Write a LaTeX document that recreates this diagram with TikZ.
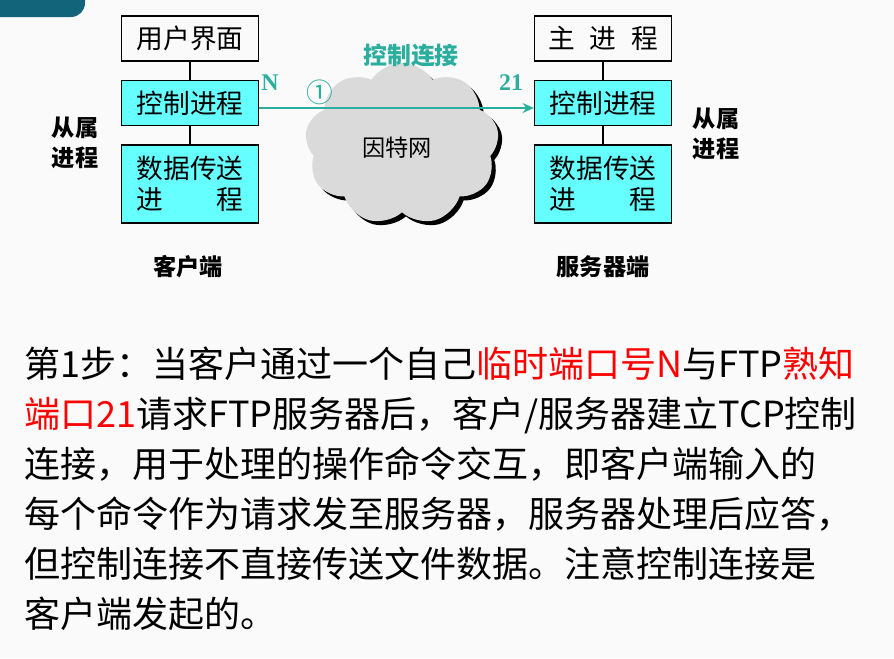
\documentclass[tikz,border=0pt]{standalone}
\usepackage{fontspec}
\setmainfont{Noto Sans CJK SC}
\newfontfamily\latinbf{Liberation Serif}
\usepackage{xcolor}
\usetikzlibrary{shapes.symbols,shadows,arrows.meta}
\definecolor{linkteal}{RGB}{43,174,158}
\definecolor{boxcyan}{RGB}{102,255,255}
\definecolor{cloudgray}{RGB}{218,218,218}
\definecolor{slideteal}{RGB}{18,100,122}
\definecolor{hotred}{RGB}{255,0,0}
\tikzset{%
    proc box/.style={
            draw,
            line width=0.8pt,
            minimum width=3.425cm,
            minimum height=1.125cm,
            inner sep=0pt,
            align=center,
            font=\fontsize{19pt}{22pt}\selectfont
        },
    proc ctrl/.style={fill=boxcyan},
    proc data/.style={fill=boxcyan, minimum height=1.95cm},
    side label/.style={
            align=center,
            inner sep=0pt,
            font=\fontsize{16.5pt}{21pt}\selectfont\bfseries
        },
    body line/.style={
            anchor=base west,
            inner sep=0pt,
            font=\fontsize{25.6pt}{30pt}\selectfont
        },
}

\begin{document}
\begin{tikzpicture}[x=0.025cm, y=-0.025cm, >={Stealth[length=8pt,width=7pt]}]

        % slide background
        \useasboundingbox (0,0) rectangle (894,658);
        \fill[gray!4] (0,0) rectangle (894,658);
        \fill[slideteal, rounded corners=0.35cm] (-20,-20) rectangle (85,17);

        % the internet
        \node [cloud, cloud puffs=9, cloud puff arc=115, aspect=1.2,
            minimum width=4.85cm, minimum height=4.05cm, inner sep=0pt,
            fill=cloudgray,
            drop shadow={shadow xshift=0.1cm, shadow yshift=-0.1cm, fill=black, opacity=1}]
            (net) at (402,144) {};
        \node [font=\fontsize{16.5pt}{20pt}\selectfont] (net-label) at (397,148) {因特网};

        % client and server columns
        \foreach \side/\x/\top in {c/190/用户界面, s/603/{主\hspace{0.55em}进\hspace{0.55em}程}} {
            \node [proc box] (\side-ui) at (\x,38.5) {\top};
            \node [proc box, proc ctrl] (\side-ctrl) at (\x,103) {控制进程};
            \node [proc box, proc data] (\side-data) at (\x,184) {数据传送\\进\hspace{2em}程};
            \draw [line width=0.8pt] (\side-ui) -- (\side-ctrl);
            \draw [line width=0.8pt] (\side-ctrl) -- (\side-data);
        }

        % control connection
        \draw [->, linkteal, line width=2pt]
            ([yshift=-0.125cm]c-ctrl.east) -- ([yshift=-0.125cm]s-ctrl.west);
        \node [linkteal, font=\fontsize{17pt}{20pt}\selectfont\bfseries] (link) at (411,55) {控制连接};
        \node [linkteal, font=\fontsize{17pt}{20pt}\selectfont\latinbf\bfseries] (port-n) at (270,83) {N};
        \node [linkteal, font=\fontsize{19pt}{20pt}\selectfont] (step-no) at (320,92) {①};
        \node [linkteal, font=\fontsize{17pt}{20pt}\selectfont\latinbf\bfseries] (port-21) at (511,83) {21};

        % side labels
        \node [side label] (c-sub) at (75,143) {从属\\进程};
        \node [side label] (s-sub) at (716,134) {从属\\进程};
        \node [side label] (c-name) at (188,267) {客户端};
        \node [side label] (s-name) at (603,267) {服务器端};

        % explanation
        \foreach \txt [count=\i] in {
            {第1步：当客户通过一个自己\textcolor{hotred}{临时端口号N}与FTP\textcolor{hotred}{熟知}},
            {\textcolor{hotred}{端口21}请求FTP服务器后，客户/服务器建立TCP控制},
            {连接，用于处理的操作命令交互，即客户端输入的},
            {每个命令作为请求发至服务器，服务器处理后应答，},
            {但控制连接不直接传送文件数据。注意控制连接是},
            {客户端发起的。}}
        \node [body line] (line-\i) at (24,{377+50*(\i-1)}) {\txt};

    \end{tikzpicture}
\end{document}
